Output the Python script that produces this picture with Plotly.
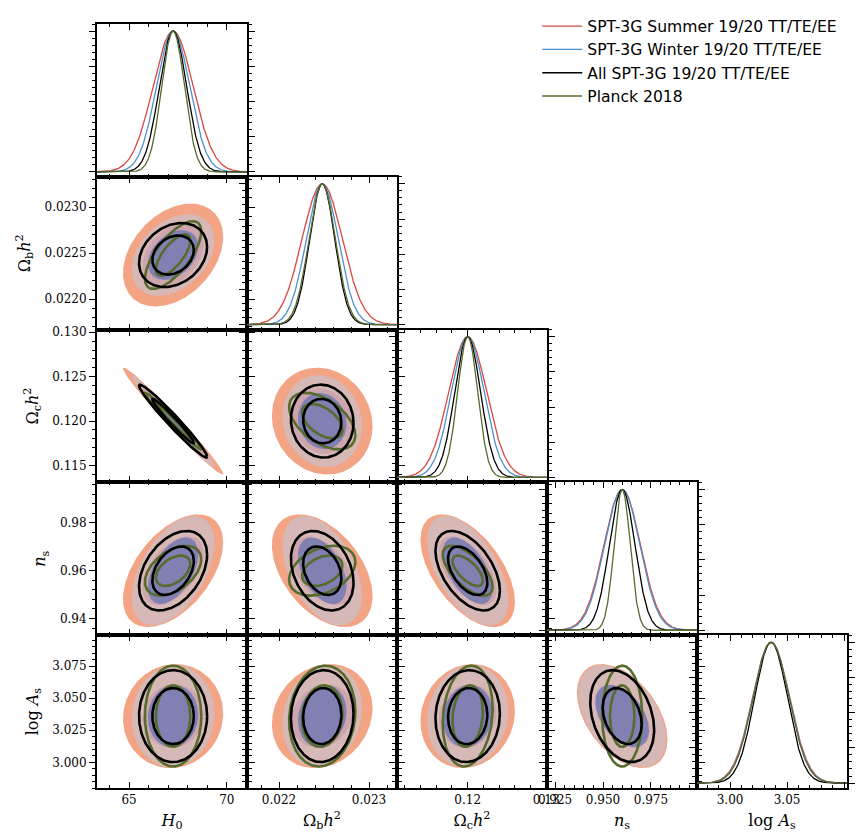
import numpy as np
import plotly.graph_objects as go

# ---------------- data ----------------
PARAM_LABELS = ["<i>H</i><sub>0</sub>", "Ω<sub>b</sub><i>h</i><sup>2</sup>",
                "Ω<sub>c</sub><i>h</i><sup>2</sup>", "<i>n</i><sub>s</sub>",
                "log <i>A</i><sub>s</sub>"]
DATASETS = ["SPT-3G Summer 19/20 TT/TE/EE", "SPT-3G Winter 19/20 TT/TE/EE",
            "All SPT-3G 19/20 TT/TE/EE", "Planck 2018"]

MEAN = [67.25, 0.02248, 0.1200, 0.9600, 3.036]

SIG_SUMMER = [1.03, 0.000225, 0.00242, 0.0095, 0.0163]
SIG_WINTER = [0.85, 0.000178, 0.00208, 0.0092, 0.0160]
SIG_ALL    = [0.70, 0.000140, 0.00165, 0.0067, 0.0144]
SIG_PLANCK = [0.58, 0.000148, 0.00128, 0.0042, 0.0158]

# correlation for pairs (0,1),(0,2),(0,3),(0,4),(1,2),(1,3),(1,4),(2,3),(2,4),(3,4)
PAIRS = [(0, 1), (0, 2), (0, 3), (0, 4), (1, 2), (1, 3), (1, 4), (2, 3), (2, 4), (3, 4)]
RHO_SUMMER = [0.35, -0.985, 0.50, 0.05, -0.10, -0.45, 0.15, -0.55, 0.10, -0.45]
RHO_WINTER = [0.35, -0.985, 0.50, 0.05, -0.10, -0.45, 0.15, -0.55, 0.10, -0.45]
RHO_ALL    = [0.25, -0.975, 0.40, 0.00, -0.05, -0.30, 0.05, -0.50, 0.05, -0.30]
RHO_PLANCK = [0.70, -0.985, 0.45, 0.00, -0.50, 0.35, 0.10, -0.65, 0.15, 0.00]

# axis settings (ranges and ticks)
X_RANGE = [[63.36, 71.03], [0.021644, 0.023311], [0.1110, 0.1301], [0.9208, 0.999], [2.971, 3.1026]]
Y_RANGE = [None, [0.02167, 0.02333], [0.1131, 0.1303], [0.933, 0.997], [2.980, 3.099]]
X_TICK0 = [65, 0.022, 0.12, 0.925, 3.00]
X_DTICK = [5, 0.001, 0.01, 0.025, 0.05]
X_MINOR = [1, 0.0002, 0.002, 0.005, 0.01]
X_FMT = ["d", ".3f", ".2f", ".3f", ".2f"]
Y_TICK0 = [0, 0.0220, 0.115, 0.94, 3.000]
Y_DTICK = [0.25, 0.0005, 0.005, 0.02, 0.025]
Y_MINOR = [0.05, 0.0001, 0.001, 0.004, 0.005]
Y_FMT = ["", ".4f", ".3f", ".2f", ".3f"]
PDF_RANGE = [-0.035, 1.05]

LEVELS = [2.30, 6.18]  # 68% and 95% for 2D gaussians

# ---------------- styles ----------------
LINE_COL = ["#d9473f", "#4f8fcf", "#000000", "#566b2c"]
SUM_FILL = ["rgb(224,124,112)", "rgb(242,164,133)"]          # 1 sigma, 2 sigma
WIN_FILL = ["rgba(52,92,186,0.50)", "rgba(186,206,232,0.50)"]
N = 5
W, H = 856, 834
ML, MR, MT, MB = 97, 9, 15, 46

SIGS = [SIG_SUMMER, SIG_WINTER, SIG_ALL, SIG_PLANCK]
RHOS = [RHO_SUMMER, RHO_WINTER, RHO_ALL, RHO_PLANCK]


def ellipse(i, j, sig, rho, k, n=240):
    t = np.linspace(0, 2 * np.pi, n)
    sx, sy = sig[i], sig[j]
    cov = np.array([[sx * sx, rho * sx * sy], [rho * sx * sy, sy * sy]])
    L = np.linalg.cholesky(cov)
    pts = L @ np.vstack([np.cos(t), np.sin(t)]) * np.sqrt(k)
    return MEAN[i] + pts[0], MEAN[j] + pts[1]


fig = go.Figure()
layout = {}
idx = 0
TICKFONT = dict(family="DejaVu Serif", size=12, color="black")
TITLEFONT = dict(family="DejaVu Serif", size=16, color="black")

for r in range(N):
    for c in range(r + 1):
        idx += 1
        xa = "x" if idx == 1 else f"x{idx}"
        ya = "y" if idx == 1 else f"y{idx}"
        xkey = "xaxis" if idx == 1 else f"xaxis{idx}"
        ykey = "yaxis" if idx == 1 else f"yaxis{idx}"

        if r == c:
            xs = np.linspace(X_RANGE[c][0], X_RANGE[c][1], 400)
            for d in range(4):
                s = SIGS[d][c]
                ys = np.exp(-0.5 * ((xs - MEAN[c]) / s) ** 2)
                fig.add_trace(go.Scatter(x=xs, y=ys, mode="lines",
                                         line=dict(color=LINE_COL[d], width=1.3),
                                         xaxis=xa, yaxis=ya, showlegend=False,
                                         hoverinfo="skip"))
        else:
            p = PAIRS.index((c, r))
            # Summer filled
            for lev in (1, 0):
                ex, ey = ellipse(c, r, SIG_SUMMER, RHO_SUMMER[p], LEVELS[lev])
                fig.add_trace(go.Scatter(x=ex, y=ey, mode="lines", fill="toself",
                                         fillcolor=SUM_FILL[lev], line=dict(width=0),
                                         xaxis=xa, yaxis=ya, showlegend=False,
                                         hoverinfo="skip"))
            # Winter filled
            for lev in (1, 0):
                ex, ey = ellipse(c, r, SIG_WINTER, RHO_WINTER[p], LEVELS[lev])
                fig.add_trace(go.Scatter(x=ex, y=ey, mode="lines", fill="toself",
                                         fillcolor=WIN_FILL[lev], line=dict(width=0),
                                         xaxis=xa, yaxis=ya, showlegend=False,
                                         hoverinfo="skip"))
            # Planck lines, then All lines
            for d in (3, 2):
                for lev in (1, 0):
                    ex, ey = ellipse(c, r, SIGS[d], RHOS[d][p], LEVELS[lev])
                    fig.add_trace(go.Scatter(x=ex, y=ey, mode="lines",
                                             line=dict(color=LINE_COL[d], width=2.6),
                                             xaxis=xa, yaxis=ya, showlegend=False,
                                             hoverinfo="skip"))

        xdom = [c / N, (c + 1) / N]
        ydom = [1 - (r + 1) / N, 1 - r / N]
        bottom = (r == N - 1)
        left = (c == 0) and r > 0
        xax = dict(
            domain=xdom, anchor=ya, range=X_RANGE[c], showgrid=False, zeroline=False,
            showline=True, linewidth=2, linecolor="black", mirror="ticks",
            ticks="inside", ticklen=6, tickwidth=1.3, tickcolor="black",
            tickmode="linear", tick0=X_TICK0[c], dtick=X_DTICK[c],
            tickformat=X_FMT[c], showticklabels=bottom, tickfont=TICKFONT,
            minor=dict(ticks="inside", ticklen=3, tickwidth=1, tickcolor="black",
                       dtick=X_MINOR[c], tick0=X_TICK0[c], showgrid=False),
            fixedrange=True, automargin=False,
        )
        if bottom:
            xax["title"] = dict(text=PARAM_LABELS[c], font=TITLEFONT, standoff=8)
        layout[xkey] = xax
        if r == c:
            yr = PDF_RANGE
            yt0, ydt, ymn, yfmt = Y_TICK0[0], Y_DTICK[0], Y_MINOR[0], ""
        else:
            yr = Y_RANGE[r]
            yt0, ydt, ymn, yfmt = Y_TICK0[r], Y_DTICK[r], Y_MINOR[r], Y_FMT[r]
        yax = dict(
            domain=ydom, anchor=xa, range=yr, showgrid=False, zeroline=False,
            showline=True, linewidth=2, linecolor="black", mirror="ticks",
            ticks="outside", ticklen=6, tickwidth=1.3, tickcolor="black",
            tickmode="linear", tick0=yt0, dtick=ydt, tickformat=yfmt,
            showticklabels=left, tickfont=TICKFONT,
            minor=dict(ticks="outside", ticklen=3, tickwidth=1, tickcolor="black",
                       dtick=ymn, tick0=yt0, showgrid=False),
            fixedrange=True, automargin=False,
        )
        if left:
            yax["title"] = dict(text=PARAM_LABELS[r], font=TITLEFONT, standoff=10)
        layout[ykey] = yax

# legend entries
for d in range(4):
    fig.add_trace(go.Scatter(x=[None], y=[None], mode="lines", name=DATASETS[d],
                             line=dict(color=LINE_COL[d], width=1.4),
                             xaxis="x", yaxis="y", showlegend=True))

fig.update_layout(
    width=W, height=H,
    margin=dict(l=ML, r=MR, t=MT, b=MB, pad=0),
    paper_bgcolor="white", plot_bgcolor="white",
    showlegend=True,
    legend=dict(x=0.587, y=1.019, xanchor="left", yanchor="top",
                font=dict(family="DejaVu Sans", size=15.6, color="black"),
                bgcolor="rgba(0,0,0,0)", borderwidth=0, tracegroupgap=0,
                itemwidth=40),
    **layout,
)

fig.write_html("out.html")
